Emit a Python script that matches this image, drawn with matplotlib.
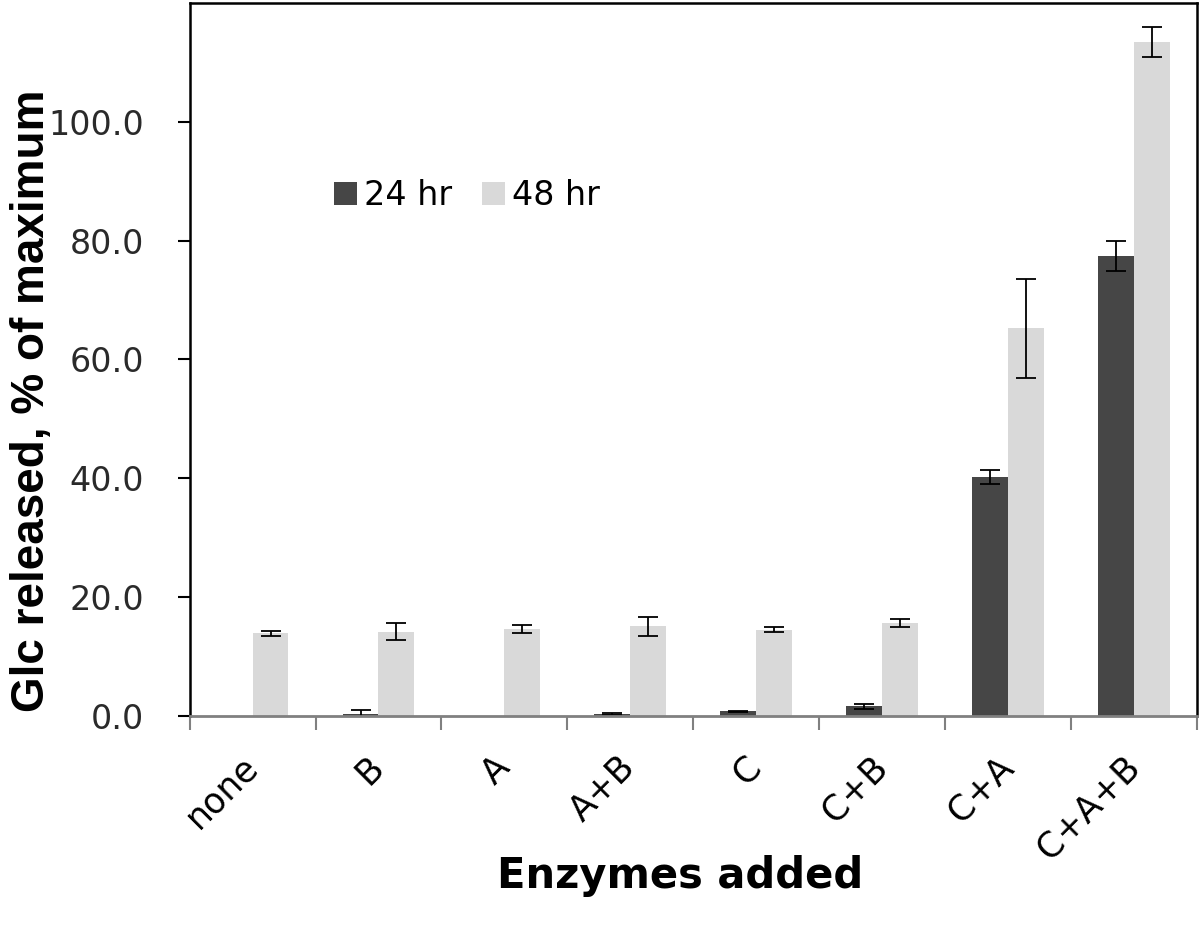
import numpy as np
import matplotlib
matplotlib.use('Agg')
import matplotlib.pyplot as plt

# data
categories = ['none', 'B', 'A', 'A+B', 'C', 'C+B', 'C+A', 'C+A+B']
hr24 = [0.0, 0.4, 0.0, 0.3, 0.8, 1.6, 40.2, 77.4]
hr24_err = [0.0, 0.6, 0.0, 0.15, 0.1, 0.4, 1.2, 2.6]
hr48 = [13.9, 14.2, 14.6, 15.1, 14.5, 15.6, 65.2, 113.4]
hr48_err = [0.4, 1.4, 0.7, 1.6, 0.4, 0.7, 8.3, 2.6]

plt.rcParams['font.family'] = ['DejaVu Sans']

fig = plt.figure(figsize=(12, 9.31), dpi=100)
ax = fig.add_axes([0.158, 0.231, 0.8395, 0.766])

x = np.arange(len(categories))
w = 0.285
ekw = dict(ecolor='black', elinewidth=1.3, capsize=7, capthick=1.3)
# no error bar where the 24 hr value is zero
err24 = [e if v > 0 else np.nan for v, e in zip(hr24, hr24_err)]
ax.bar(x - w / 2, hr24, w, color='#464646', label='24 hr',
       yerr=err24, error_kw=ekw)
ax.bar(x + w / 2, hr48, w, color='#d9d9d9', label='48 hr',
       yerr=hr48_err, error_kw=ekw)

ax.set_xlim(-0.5, len(categories) - 0.5)
ax.set_ylim(0, 120)
ax.set_yticks(np.arange(0, 101, 20))
ax.set_yticklabels(['%.1f' % v for v in np.arange(0, 101, 20)], fontsize=24, color='#2a2a2a')

# category ticks at the group boundaries, labels at centres
ax.set_xticks(np.arange(-0.5, len(categories), 1.0))
ax.set_xticklabels([])
ax.set_xticks(x, minor=True)
ax.set_xticklabels(categories, minor=True, rotation=45, ha='right', va='center',
                   rotation_mode='anchor', fontsize=25)
ax.tick_params(axis='x', which='minor', length=0, pad=33)
ax.tick_params(axis='x', which='major', length=10, width=1.5, color='#808080', direction='out')
ax.tick_params(axis='y', length=9, width=1.5, direction='out', pad=24)

for s in ['left', 'top', 'right']:
    ax.spines[s].set_linewidth(1.8)
    ax.spines[s].set_color('black')
ax.spines['bottom'].set_color('#808080')
ax.spines['bottom'].set_linewidth(2.0)

ax.set_xlabel('Enzymes added', fontsize=30, fontweight='bold')
ax.xaxis.set_label_coords(0.487, -0.195)
ax.set_ylabel('Glc released, % of maximum', fontsize=33, fontweight='bold',
              family=['Liberation Sans', 'DejaVu Sans'])
ax.yaxis.set_label_coords(-0.135, 0.442)

ax.legend(loc='center', bbox_to_anchor=(0.275, 0.73), ncol=2, frameon=False,
          fontsize=24, handlelength=0.7, handleheight=0.7, handletextpad=0.2,
          columnspacing=0.9)

fig.savefig('out.png', dpi=100)
